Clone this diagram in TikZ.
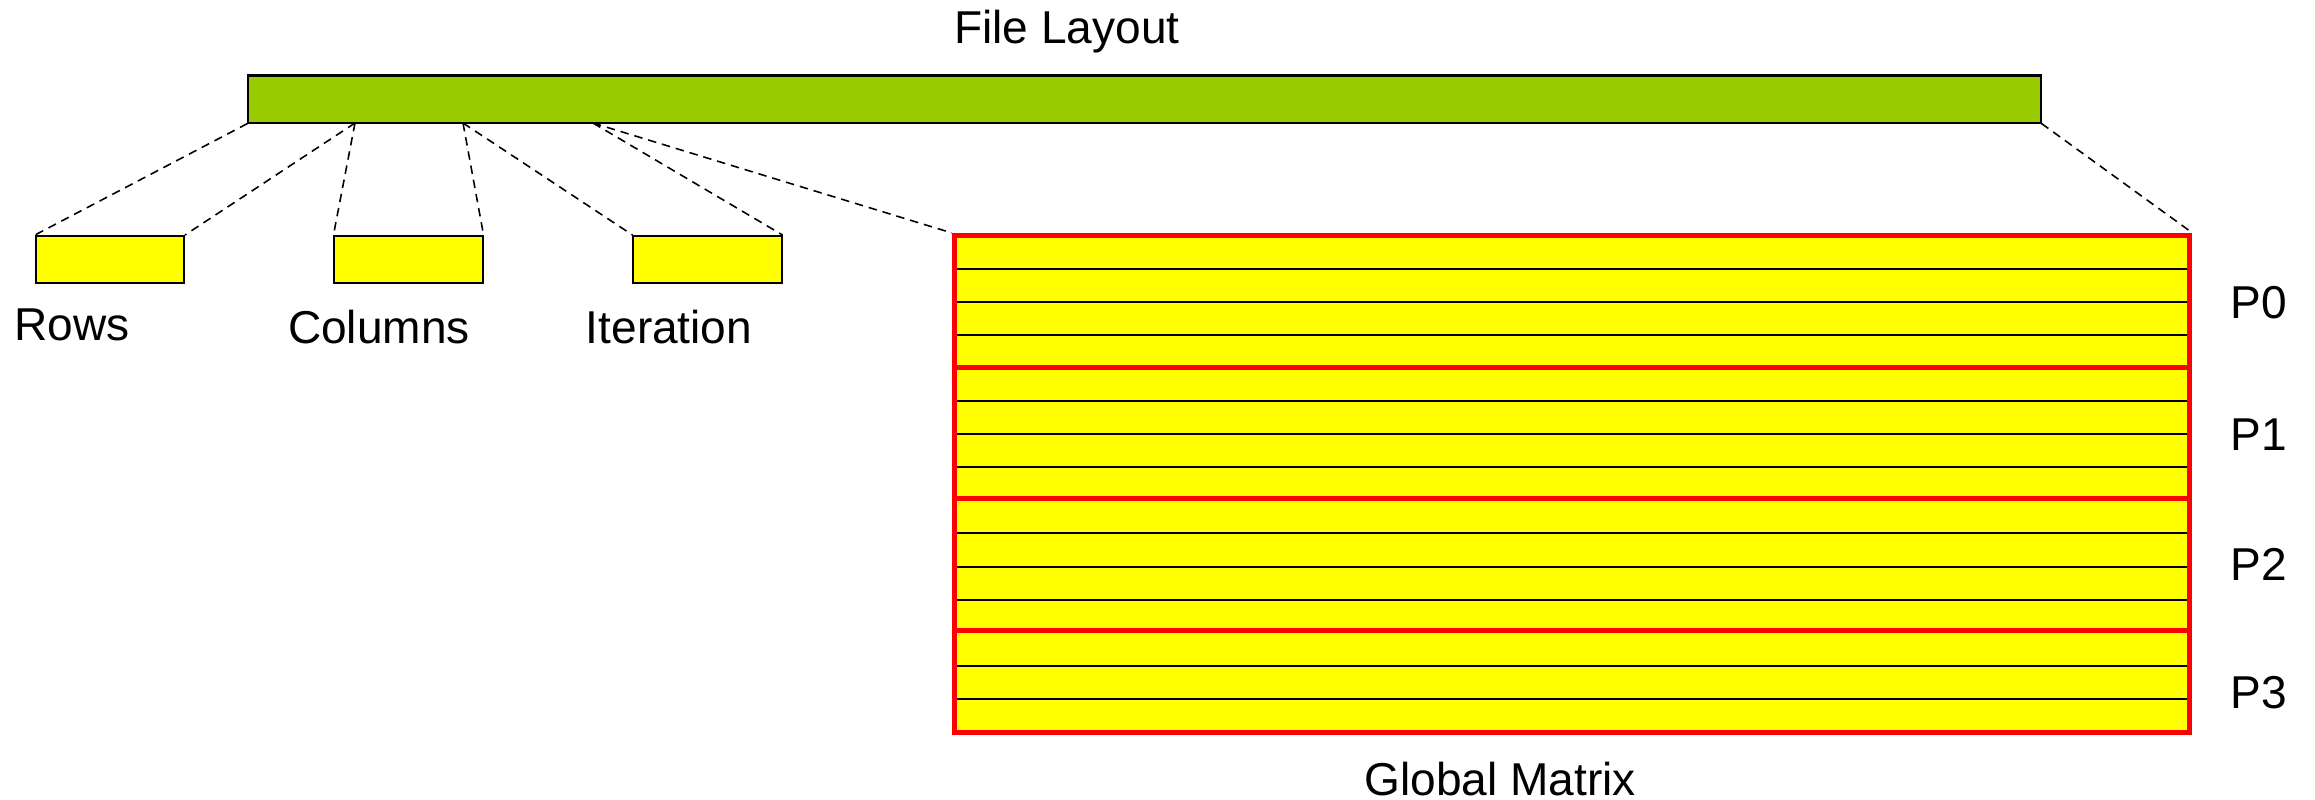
\documentclass[tikz,border=0pt]{standalone}
\usepackage{fontspec}
\setmainfont{Liberation Sans}
\definecolor{bargreen}{HTML}{99CC00}
\definecolor{cellyellow}{HTML}{FFFF00}
\definecolor{blockred}{HTML}{FF0000}
\begin{document}
\begin{tikzpicture}[x=0.01cm,y=-0.01cm,
  lbl/.style={font=\fontsize{13.1}{15}\selectfont, anchor=base, inner sep=0},
  fieldbox/.style={draw=black, fill=cellyellow, line width=0.57pt,
    minimum width=1.48cm, minimum height=0.47cm, inner sep=0},
  link/.style={dash pattern=on 2.4pt off 1.7pt, line width=0.45pt},
  rowline/.style={line width=0.45pt, black},
  sepline/.style={line width=1.42pt, blockred}]
\useasboundingbox (0,0) rectangle (2315,799);

% file header bar
\node[lbl] (title) at (1067,43) {File Layout};
\node[draw=black, fill=bargreen, line width=0.57pt, inner sep=0,
      minimum width=17.91cm, minimum height=0.47cm] (file) at (1144.5,99) {};

% header fields
\node[fieldbox] (rows) at (110,259.5) {};
\node[fieldbox] (cols) at (408.5,259.5) {};
\node[fieldbox] (iter) at (707.5,259.5) {};
\node[lbl] (rowslbl) at (72,340) {Rows};
\node[lbl] (colslbl) at (379,343) {Columns};
\node[lbl] (iterlbl) at (669,343) {Iteration};

% global matrix, split in four blocks
\node[fill=cellyellow, inner sep=0, line width=1.42pt,
      minimum width=12.35cm, minimum height=4.97cm] (gm) at (1572,484) {};
\foreach \y in {269,302,335,401,434,467,533,567,600,666,699}
  \draw[rowline] (954.5,\y) -- (2189.5,\y);
\foreach \y in {367,498,630}
  \draw[sepline] (954.5,\y) -- (2189.5,\y);
\node[draw=blockred, inner sep=0, line width=1.42pt,
      minimum width=12.35cm, minimum height=4.97cm] (gmframe) at (1572,484) {};
\node[lbl] (p0) at (2259,318) {P0};
\node[lbl] (p1) at (2259,450) {P1};
\node[lbl] (p2) at (2259,580) {P2};
\node[lbl] (p3) at (2259,708) {P3};
\node[lbl] (gmlbl) at (1500,795) {Global Matrix};

% where each part sits in the file
\coordinate (t1) at (355,123);
\coordinate (t2) at (463,123);
\coordinate (t3) at (593,123);
\draw[link] (file.south west) -- (rows.north west);
\draw[link] (t1) -- (rows.north east);
\draw[link] (t1) -- (cols.north west);
\draw[link] (t2) -- (cols.north east);
\draw[link] (t2) -- (iter.north west);
\draw[link] (t3) -- (iter.north east);
\draw[link] (t3) -- (gmframe.north west);
\draw[link] (file.south east) -- (gmframe.north east);
\end{tikzpicture}
\end{document}
